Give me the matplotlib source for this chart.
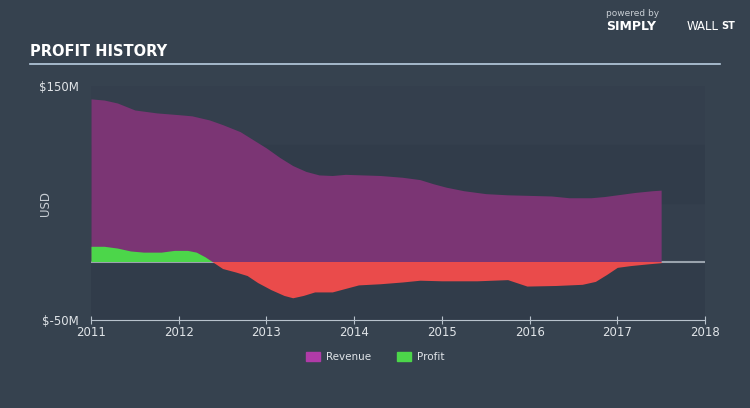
import numpy as np
import matplotlib.pyplot as plt
from matplotlib.patches import Patch

# revenue and profit, in $M
rev_x = [2011.0, 2011.15, 2011.3, 2011.5, 2011.75, 2012.0, 2012.15, 2012.35, 2012.5, 2012.7,
         2012.85, 2013.0, 2013.15, 2013.3, 2013.45, 2013.6, 2013.75, 2013.9, 2014.1, 2014.3,
         2014.55, 2014.75, 2014.9, 2015.05, 2015.25, 2015.5, 2015.75, 2016.0, 2016.25,
         2016.45, 2016.7, 2016.85, 2017.0, 2017.2, 2017.4, 2017.5]
rev_y = [139, 138, 135.5, 129.5, 127, 125.5, 124.5, 121, 117, 111, 104, 97, 89, 82, 77, 74,
         73.5, 74.5, 74, 73.5, 72, 70, 66.5, 63.5, 60.5, 58, 57, 56.5, 56, 54.5, 54.5, 55.5,
         57, 59, 60.5, 61]

prof_x = [2011.0, 2011.15, 2011.3, 2011.45, 2011.6, 2011.8, 2011.95, 2012.1, 2012.2, 2012.3,
          2012.38, 2012.5, 2012.65, 2012.78, 2012.9, 2013.05, 2013.2, 2013.3, 2013.42, 2013.55,
          2013.75, 2013.9, 2014.05, 2014.3, 2014.55, 2014.75, 2015.0, 2015.4, 2015.75, 2015.85,
          2015.97, 2016.3, 2016.6, 2016.75, 2016.88, 2017.0, 2017.15, 2017.35, 2017.5]
prof_y = [13, 13, 11.5, 9, 8, 8, 9.5, 9.5, 8, 4, 0, -6, -9, -12, -18, -24, -29, -31, -29, -26,
          -26, -23, -20, -19, -17.5, -16, -16.5, -16.5, -15.5, -18, -21, -20.5, -19.5, -17,
          -11, -5, -3.5, -2, -1]

years = [2011, 2012, 2013, 2014, 2015, 2016, 2017, 2018]

bg = "#36424f"
fig = plt.figure(figsize=(7.5, 4.08), dpi=100, facecolor=bg)
ax = fig.add_axes([91/750, 1-320/408, 614/750, 234/408])
ax.set_facecolor("#343f4d")

# subtle bands
ax.axhspan(50, 100, color="#313c4a", zorder=0)
ax.axhspan(-50, 0, color="#313c4a", zorder=0)

ax.fill_between(rev_x, 0, rev_y, color="#7b3574", lw=0, zorder=2)
px = np.array(prof_x)
py = np.array(prof_y)
ax.fill_between(px, 0, py, where=py >= 0, interpolate=True, color="#4cd64a", lw=0, zorder=3)
ax.fill_between(px, 0, py, where=py <= 0, interpolate=True, color="#ea4b4b", lw=0, zorder=3)
ax.axhline(0, color="#9aa3ad", lw=1.5, zorder=1)

ax.set_xlim(2011, 2018)
ax.set_ylim(-50, 150)
for s in ["top", "right", "left"]:
    ax.spines[s].set_visible(False)
ax.spines["bottom"].set_color("#b8c2cc")
ax.set_xticks(years)
ax.set_xticklabels([str(y) for y in years])
ax.tick_params(axis="x", colors="#b8c2cc", labelcolor="#e0e4e8", labelsize=8.5,
               direction="inout", length=6, pad=1)
ax.set_yticks([150, -50])
ax.set_yticklabels(["$150M", "$-50M"])
ax.tick_params(axis="y", length=0, labelcolor="#e0e4e8", labelsize=8.5, pad=9)
ax.set_ylabel("USD", color="#c8ced4", fontsize=8.5)
ax.yaxis.set_label_coords(-0.063, 0.5)

fig.text(30/750, 1-52/408, "PROFIT HISTORY", color="white", fontsize=10.5,
         fontweight="bold", family="Liberation Sans Narrow", va="center")
fig.add_artist(plt.Line2D([30/750, 720/750], [1-64/408, 1-64/408], color="#b8cde0", lw=1.2))

fig.text(606/750, 1-14/408, "powered by", color="#c8ced4", fontsize=6.5, va="center")
fig.text(606/750, 1-27/408, "SIMPLY", color="white", fontsize=9, fontweight="bold", va="center")
fig.text(687/750, 1-27/408, "WALL", color="white", fontsize=8.5, va="center")
fig.text(721/750, 1-26/408, "ST", color="white", fontsize=7, fontweight="bold", va="center")

handles = [Patch(color="#b03ba8", label="Revenue"), Patch(color="#4cd64a", label="Profit")]
leg = fig.legend(handles=handles, loc="center", bbox_to_anchor=(0.5, 1-357/408), ncol=2,
                 frameon=False, fontsize=7.5, handlelength=1.4, handleheight=1.0,
                 columnspacing=2.5, handletextpad=0.5)
for t in leg.get_texts():
    t.set_color("#e0e4e8")

fig.savefig("out.png", dpi=100, facecolor=bg)
